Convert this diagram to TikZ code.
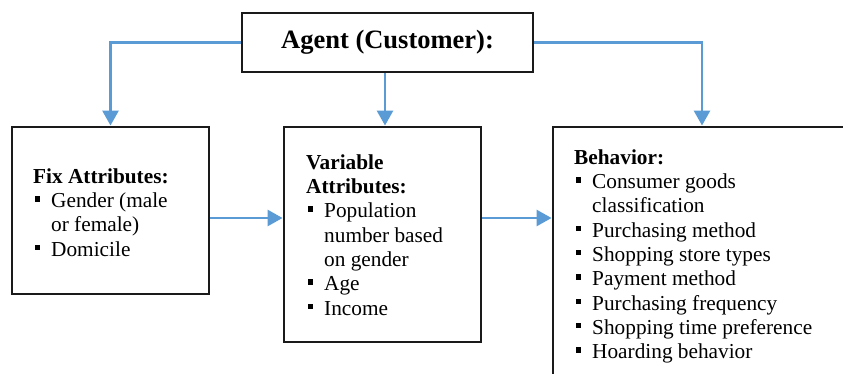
\documentclass[tikz,border=0pt]{standalone}
\usepackage{fontspec}
\setmainfont{Liberation Serif}
\usetikzlibrary{arrows.meta}
\definecolor{linkblue}{HTML}{5B9BD5}
\definecolor{boxline}{HTML}{1A1A1A}
% square bullet followed by the item indent
\newcommand{\sqbul}{\makebox[18pt][l]{\hspace{1.5pt}\rule[6pt]{5.5pt}{5.5pt}}}
\newcommand{\cont}{\hspace*{18pt}}
\tikzset{
  box/.style={draw=boxline, line width=2.9pt, fill=white, inner sep=0pt},
  txt/.style={anchor=north west, inner sep=0pt, align=left,
    font=\fontsize{21.3pt}{24.3pt}\selectfont},
  link/.style={draw=linkblue, line width=2.8pt,
    -{Triangle[width=16pt,length=15pt]}},
}
\begin{document}
\begin{tikzpicture}[x=1pt, y=-1pt]
\path[use as bounding box, clip] (0,0) rectangle (843,374);

% boxes
\node[box, minimum width=291pt, minimum height=59pt,
      font=\bfseries\fontsize{26.5pt}{30pt}\selectfont]
  (agent) at (387.5,42.5) {Agent (Customer):};
\node[box, minimum width=197pt, minimum height=167pt] (fix) at (110.5,210.5) {};
\node[box, minimum width=197pt, minimum height=215pt] (var) at (382.5,234.5) {};
\node[box, minimum width=317pt, minimum height=273pt] (beh) at (711.5,263.5) {};

% box contents
\node[txt] (fixtxt) at (33,166) {\strut\textbf{Fix Attributes:}\\
  \sqbul Gender (male\\
  \cont or female)\\
  \sqbul Domicile};
\node[txt] (vartxt) at (306,152) {\strut\textbf{Variable}\\
  \textbf{Attributes:}\\
  \sqbul Population\\
  \cont number based\\
  \cont on gender\\
  \sqbul Age\\
  \sqbul Income};
\node[txt] (behtxt) at (574,147) {\strut\textbf{Behavior:}\\
  \sqbul Consumer goods\\
  \cont classification\\
  \sqbul Purchasing method\\
  \sqbul Shopping store types\\
  \sqbul Payment method\\
  \sqbul Purchasing frequency\\
  \sqbul Shopping time preference\\
  \sqbul Hoarding behavior};

% connector guides
\coordinate (row) at (0,218);
\coordinate (rcol) at (702,0);

% connectors
\draw[link] (agent.west) -| (fix.north);
\draw[link] ([xshift=-2.5pt]agent.south) -- ([xshift=-2.5pt]agent.south |- var.north);
\draw[link] (agent.east) -| (rcol |- beh.north);
\draw[link] (fix.east |- row) -- (var.west |- row);
\draw[link] (var.east |- row) -- (beh.west |- row);
\end{tikzpicture}
\end{document}
